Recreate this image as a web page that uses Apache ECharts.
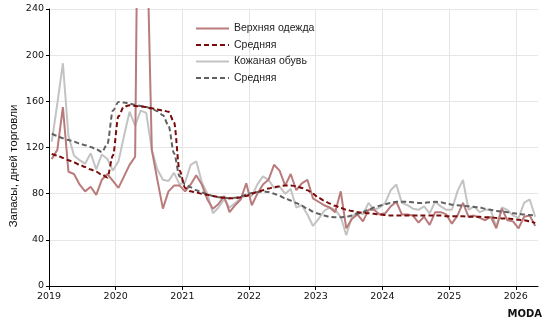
<!DOCTYPE html>
<html>
<head>
<meta charset="utf-8">
<script src="https://cdn.jsdelivr.net/npm/echarts@6/dist/echarts.min.js"></script>
<style>
html, body { margin: 0; padding: 0; background: #fff; }
#chart { width: 545px; height: 322px; }
</style>
</head>
<body>
<div id="chart"></div>
<script>
// monthly points, Jan 2019 .. Apr 2026 (plotted at mid-month)
var startYear = 2019;
var yearTicks = ['2019', '2020', '2021', '2022', '2023', '2024', '2025', '2026'];

var outerwear = [
  110, 118, 155, 99, 97, 88, 82, 86, 79, 92, 97, 91,
  85, 95, 105, 112, 600, 330, 118, 92, 67, 82, 87, 87,
  82, 88, 96, 88, 75, 67, 71, 78, 64, 70, 75, 89,
  70, 80, 88, 92, 105, 100, 87, 97, 83, 89, 92, 76,
  73, 70, 68, 64, 82, 50, 58, 62, 56, 66, 66, 62,
  63, 69, 73, 62, 62, 61, 55, 60, 53, 64, 64, 62,
  54, 61, 72, 60, 61, 59, 57, 60, 50, 67, 57, 56,
  50, 60, 61, 52
];
var outerwearAvg = [
  114.5, 113, 111, 109, 107, 105, 103, 101, 99, 96.5, 94, 113,
  147, 155.5, 156.5, 156, 155.5, 155, 154, 153, 152, 151, 142, 100,
  85, 82, 81, 80, 79, 78, 77, 76.5, 76, 76, 77, 78,
  80, 81.5, 83, 84.5, 85.5, 86.5, 87, 87, 86.5, 85, 83, 80,
  76.5, 74, 71.5, 69.5, 67.5, 66, 65, 64, 63.5, 63, 62.5, 62,
  61.5, 61, 61, 61, 61, 61, 61, 61, 61, 61, 61, 60.5,
  60.5, 60.5, 60.5, 60, 60, 60, 59.5, 59.5, 59, 58.5, 58.5, 58,
  57.5, 57, 56, 54.5
];
var leather = [
  125, 158, 193, 130, 113, 109, 106, 115, 101, 114, 110, 100,
  108, 130, 151, 139, 152, 150, 118, 101, 92, 91, 98, 88,
  90, 105, 108, 90, 80, 63, 68, 75, 68, 72, 76, 79,
  78, 88, 95, 92, 85, 86, 80, 84, 68, 70, 62, 52,
  58, 65, 68, 66, 60, 44, 60, 64, 62, 72, 66, 68,
  72, 83, 88, 72, 70, 67, 66, 69, 63, 73, 69, 66,
  66, 82, 92, 66, 69, 64, 66, 66, 51, 68, 66, 61,
  59, 72, 75, 60
];
var leatherAvg = [
  132, 130, 128, 126.5, 125, 123.5, 122, 120.5, 118.5, 116, 123, 152,
  159.5, 159, 158, 157, 156, 155, 153.5, 151.5, 148, 139, 115, 95,
  88, 85.5, 83, 81, 79.5, 78, 77, 76.5, 76, 76.5, 77.5, 79,
  80.5, 81.5, 82, 81.5, 80, 78, 76, 74, 72, 69.5, 67, 64.5,
  62.5, 61, 60, 59.5, 59.5, 60, 61, 62.5, 64, 66, 68, 69.5,
  71, 72, 73, 73, 73, 72.5, 72, 72, 72.5, 73, 72.5, 71.5,
  70.5, 70, 69.5, 69, 68.5, 68, 67, 66, 65, 64.5, 64, 63,
  62.5, 62, 61.5, 61
];

function toPairs(arr) {
  var out = [];
  for (var i = 0; i < arr.length; i++) {
    out.push([startYear + (i + 0.5) / 12, arr[i]]);
  }
  return out;
}

var axisFont = '"DejaVu Sans", sans-serif';
var textFont = '"Liberation Sans", Arial, sans-serif';
var myChart = echarts.init(document.getElementById('chart'));

myChart.setOption({
  animation: false,
  backgroundColor: '#fff',
  grid: { left: 49, right: 7, top: 9, bottom: 36 },
  legend: {
    orient: 'vertical',
    left: 190,
    top: 18,
    itemWidth: 33,
    itemHeight: 12,
    itemGap: 5.5,
    itemStyle: { opacity: 0 },
    textStyle: { fontFamily: textFont, fontSize: 10.5, color: '#222' },
    data: ['Верхняя одежда', 'Средняя', 'Кожаная обувь', 'Средняя ']
  },
  xAxis: {
    type: 'value',
    min: startYear,
    max: 2026 + 4 / 12,
    interval: 1,
    axisLine: { show: true, lineStyle: { color: '#000', width: 1 } },
    axisTick: { show: true, length: 4, lineStyle: { color: '#000' } },
    axisLabel: {
      fontFamily: axisFont, fontSize: 9.5, color: '#111', margin: 6,
      showMaxLabel: false,
      formatter: function (v) {
        var k = Math.round(v - startYear);
        if (Math.abs(v - startYear - k) > 1e-6) return '';
        return yearTicks[k] || '';
      }
    },
    splitLine: { show: true, showMaxLine: false, lineStyle: { color: '#e6e6e6', width: 1 } }
  },
  yAxis: {
    type: 'value',
    min: 0,
    max: 240,
    interval: 40,
    axisLine: { show: true, lineStyle: { color: '#000', width: 1 } },
    axisTick: { show: true, length: 3, lineStyle: { color: '#000' } },
    axisLabel: { fontFamily: axisFont, fontSize: 9.5, color: '#111', margin: 5 },
    splitLine: { show: true, lineStyle: { color: '#e6e6e6', width: 1 } }
  },
  graphic: [
    {
      type: 'text',
      x: 14, y: 166,
      rotation: Math.PI / 2,
      style: {
        text: 'Запасы, дней торговли',
        font: '11.5px ' + textFont,
        fill: '#111',
        align: 'center',
        verticalAlign: 'middle'
      }
    },
    {
      type: 'text',
      right: 3, bottom: 3,
      style: {
        text: 'MODA',
        font: 'bold 10px "DejaVu Sans", sans-serif',
        fill: '#111'
      }
    }
  ],
  series: [
    {
      name: 'Кожаная обувь',
      type: 'line',
      showSymbol: false,
      symbol: 'none',
      clip: true,
      lineStyle: { color: '#c3c3c3', width: 2 },
      itemStyle: { color: '#c3c3c3' },
      data: toPairs(leather)
    },
    {
      name: 'Верхняя одежда',
      type: 'line',
      showSymbol: false,
      symbol: 'none',
      clip: true,
      lineStyle: { color: '#b97b7b', width: 2 },
      itemStyle: { color: '#b97b7b' },
      data: toPairs(outerwear)
    },
    {
      name: 'Средняя ',
      type: 'line',
      showSymbol: false,
      symbol: 'none',
      smooth: 0.3,
      smoothMonotone: 'x',
      lineStyle: { color: '#606060', width: 2, type: [5, 3] },
      itemStyle: { color: '#606060' },
      data: toPairs(leatherAvg)
    },
    {
      name: 'Средняя',
      type: 'line',
      showSymbol: false,
      symbol: 'none',
      smooth: 0.3,
      smoothMonotone: 'x',
      lineStyle: { color: '#7a0a0a', width: 2, type: [5, 3] },
      itemStyle: { color: '#7a0a0a' },
      data: toPairs(outerwearAvg)
    }
  ]
});
</script>
</body>
</html>
